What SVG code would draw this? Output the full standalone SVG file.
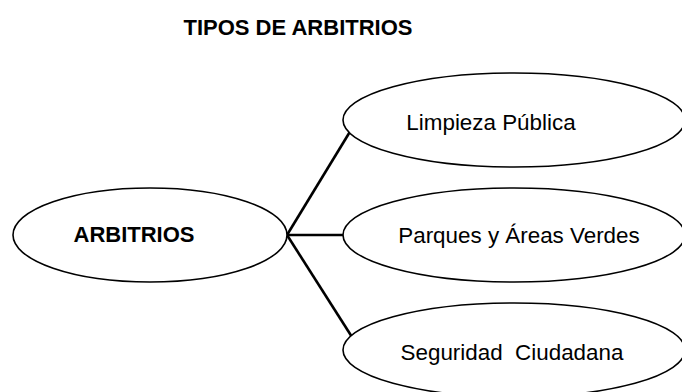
<svg xmlns="http://www.w3.org/2000/svg" width="682" height="392" viewBox="0 0 682 392">
<style>
.e{fill:#fff;stroke:#000;stroke-width:1.6}
.c{stroke:#000;stroke-width:2.6;fill:none}
.b{font-family:"Liberation Sans",Arial,sans-serif;font-weight:bold;fill:#000}
.t{font-family:"Liberation Sans",Arial,sans-serif;font-size:22.4px;fill:#000}
</style>
<rect width="682" height="392" fill="#fff"/>
<text class="b" x="298" y="35" font-size="22" text-anchor="middle">TIPOS DE ARBITRIOS</text>
<g id="connectors">
<line class="c" x1="287" y1="235" x2="351" y2="130"/>
<line class="c" x1="287" y1="235" x2="344" y2="235"/>
<line class="c" x1="287" y1="235" x2="352" y2="337"/>
</g>
<g id="arbitrios">
<ellipse class="e" cx="150" cy="235" rx="137" ry="47"/>
<text class="b" x="134" y="242" font-size="22" text-anchor="middle">ARBITRIOS</text>
</g>
<g id="limpieza">
<ellipse class="e" cx="514" cy="120" rx="171" ry="47"/>
<text class="t" x="491" y="130" text-anchor="middle">Limpieza Pública</text>
</g>
<g id="parques">
<ellipse class="e" cx="514" cy="235" rx="171" ry="47"/>
<text class="t" x="519" y="243" text-anchor="middle">Parques y Áreas Verdes</text>
</g>
<g id="seguridad">
<ellipse class="e" cx="514" cy="350" rx="171" ry="47"/>
<text class="t" x="512" y="360" text-anchor="middle" xml:space="preserve">Seguridad  Ciudadana</text>
</g>
</svg>
